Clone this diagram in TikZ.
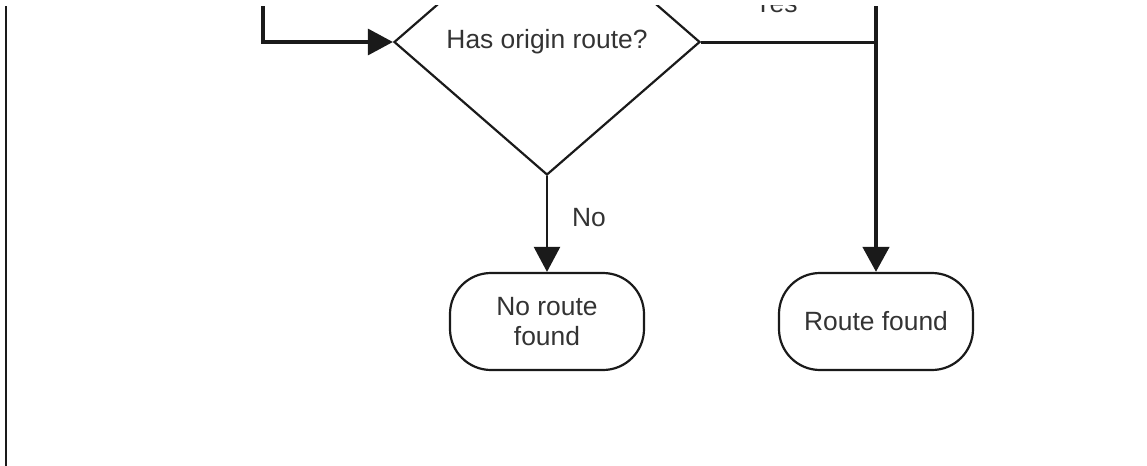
\documentclass[tikz,border=0pt]{standalone}
\usepackage{fontspec}
\setmainfont{Liberation Sans}
\usetikzlibrary{shapes.geometric,arrows.meta}
\definecolor{ink}{HTML}{1A1A1A}
\definecolor{txt}{HTML}{333333}
\begin{document}
\begin{tikzpicture}[x=0.5pt,y=-0.5pt,
  every node/.style={font=\fontsize{13.2pt}{15pt}\selectfont, text=txt},
  decision/.style={diamond, draw=ink, line width=1.1pt, inner sep=0pt,
    minimum width=153pt, minimum height=133pt},
  terminal/.style={draw=ink, line width=1.1pt, rounded corners=20.5pt,
    minimum width=97pt, minimum height=48.5pt, inner sep=0pt, align=center},
  label/.style={anchor=base, inner sep=0pt},
  wire/.style={draw=ink, line width=1.5pt},
  flow/.style={draw=ink, -{Triangle[length=12.5pt,width=13pt]}},
]
% page frame
\path[use as bounding box] (0,0) rectangle (1147,466);

\begin{scope}
% visible drawing area below the thin top strip
\clip (0,5) rectangle (1147,466);

% shapes
\node[decision] (q) at (547,42) {\raisebox{-1pt}{Has origin route?}};
\node[terminal] (none) at (547,321.5) {No route\\found};
\node[terminal] (found) at (876,321.5) {Route found};

% free ends of connectors
\coordinate (rail top) at (6,6);
\coordinate (rail bottom) at (6,466);
\coordinate (in top) at (263,6);
\coordinate (yes top) at (876,6);
\coordinate (yes join) at (876,42);

% connectors
\draw[wire, line width=1.3pt] (rail top) -- (rail bottom);
\draw[flow, line width=1.6pt] (in top) |- (q.west);
\draw[wire] (q.east) -- (yes join);
\draw[flow, line width=2.2pt] (yes top) -- (found.north);
\draw[flow, line width=1.2pt] (q.south) -- (none.north);

% labels
\node[label] (no) at (589,226) {No};
\node[label] (yes) at (776,12.5) {Yes};
\end{scope}
\end{tikzpicture}
\end{document}
